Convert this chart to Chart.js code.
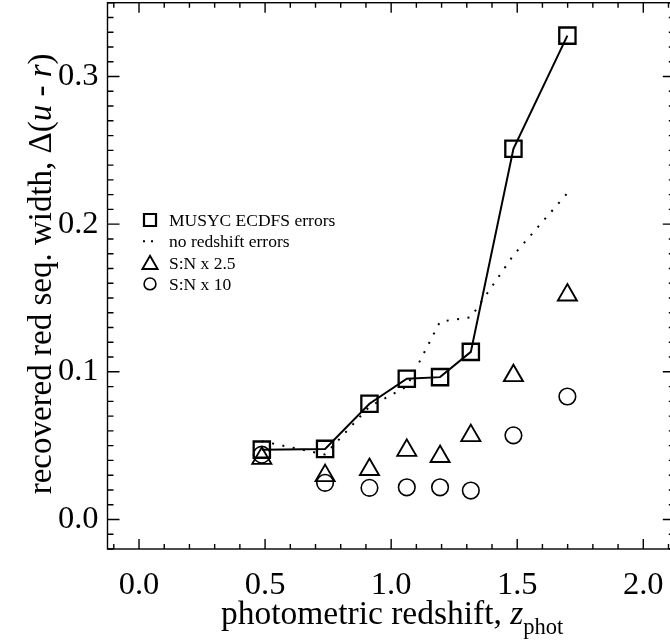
<!DOCTYPE html>
<html>
<head>
<meta charset="UTF-8">
<title>Recovered red sequence width vs photometric redshift</title>
<script src="https://cdn.jsdelivr.net/npm/chart.js"></script>
<style>
  html, body { margin: 0; padding: 0; background: #fff; overflow: hidden; }
  #wrap { width: 676px; height: 644px; }
</style>
</head>
<body>
<div id="wrap"><canvas id="c" width="676" height="644"></canvas></div>
<script>
// redshift bins and recovered red-sequence widths
const zPhot       = [0.487, 0.738, 0.914, 1.062, 1.194, 1.316, 1.485, 1.699];
const widthMusyc  = [0.0473, 0.0478, 0.0784, 0.0953, 0.0964, 0.1135, 0.2511, 0.3277];
const widthNoZErr = [0.053, 0.044, 0.0765, 0.090, 0.134, 0.137, 0.179, 0.221];
const widthSN25   = [0.0414, 0.0297, 0.0338, 0.0468, 0.0426, 0.0568, 0.0974, 0.152];
const widthSN10   = [0.0439, 0.0248, 0.0214, 0.0218, 0.0218, 0.0196, 0.057, 0.0833];

const xTicks = [0.0, 0.5, 1.0, 1.5, 2.0];
const yTicks = [0.0, 0.1, 0.2, 0.3];
const xRange = [-0.125, 2.125];
const yRange = [-0.02, 0.35];

const legendLabels = ['MUSYC ECDFS errors', 'no redshift errors', 'S:N x 2.5', 'S:N x 10'];

const SERIF = '"Liberation Serif", "Times New Roman", serif';
const pts = ys => zPhot.map((x, i) => ({ x, y: ys[i] }));

// box, inward ticks on all four sides, axis titles and the in-plot legend
const framePlugin = {
    id: 'frame',
    afterDraw(chart) {
        const ctx = chart.ctx;
        const a = chart.chartArea;
        const xs = chart.scales.x, ys = chart.scales.y;
        ctx.save();
        ctx.strokeStyle = '#000';
        ctx.lineWidth = 1.4;
        ctx.strokeRect(a.left, a.top, a.right - a.left, a.bottom - a.top);

        ctx.beginPath();
        for (let i = Math.ceil(xRange[0] * 10); i <= Math.floor(xRange[1] * 10); i++) {
            const px = xs.getPixelForValue(i / 10);
            const len = i % 5 === 0 ? 10 : 5;
            ctx.moveTo(px, a.bottom); ctx.lineTo(px, a.bottom - len);
            ctx.moveTo(px, a.top); ctx.lineTo(px, a.top + len);
        }
        for (let i = Math.ceil(yRange[0] * 100); i <= Math.floor(yRange[1] * 100); i++) {
            const py = ys.getPixelForValue(i / 100);
            const len = i % 10 === 0 ? 12 : 6;
            ctx.moveTo(a.left, py); ctx.lineTo(a.left + len, py);
            ctx.moveTo(a.right, py); ctx.lineTo(a.right - len, py);
        }
        ctx.stroke();

        // x title: photometric redshift, z_phot
        ctx.fillStyle = '#000';
        ctx.textBaseline = 'alphabetic';
        const xParts = [
            { t: 'photometric redshift, ', f: '33.5px ' + SERIF, dy: 0 },
            { t: 'z', f: 'italic 33.5px ' + SERIF, dy: 0 },
            { t: 'phot', f: '22.5px ' + SERIF, dy: 10 }
        ];
        drawRun(ctx, xParts, (a.left + a.right) / 2 + 1, a.bottom + 75);

        // y title, rotated
        ctx.save();
        ctx.translate(a.left - 57, (a.top + a.bottom) / 2 - 2);
        ctx.rotate(-Math.PI / 2);
        const yParts = [
            { t: 'recovered red seq. width, \u0394(', f: '33px ' + SERIF, dy: 0 },
            { t: 'u', f: 'italic 33px ' + SERIF, dy: 0 },
            { t: ' - ', f: '33px ' + SERIF, dy: 0 },
            { t: 'r', f: 'italic 33px ' + SERIF, dy: 0 },
            { t: ')', f: '33px ' + SERIF, dy: 0 }
        ];
        drawRun(ctx, yParts, 0, 0);
        ctx.restore();

        // legend
        const lx = a.left + 42.5, tx = a.left + 61.5;
        const rowY = i => a.top + 217.3 + i * 21.3;
        ctx.fillStyle = 'rgba(0,0,0,0)';
        ctx.lineWidth = 2.2;
        Chart.helpers.drawPoint(ctx, { pointStyle: 'rect', radius: 8.5, borderWidth: 2.2 }, lx, rowY(0));
        ctx.beginPath();
        ctx.lineWidth = 2;
        ctx.setLineDash([2, 6]);
        ctx.moveTo(lx - 7, rowY(1)); ctx.lineTo(lx + 3, rowY(1));
        ctx.stroke();
        ctx.setLineDash([]);
        ctx.lineWidth = 1.9;
        Chart.helpers.drawPoint(ctx, { pointStyle: 'triangle', radius: 8.8, borderWidth: 1.9 }, lx, rowY(2) + 2);
        ctx.lineWidth = 1.6;
        Chart.helpers.drawPoint(ctx, { pointStyle: 'circle', radius: 5.9, borderWidth: 1.6 }, lx, rowY(3));
        ctx.fillStyle = '#000';
        ctx.font = '17.5px ' + SERIF;
        ctx.textAlign = 'left';
        legendLabels.forEach((s, i) => ctx.fillText(s, tx, rowY(i) + 6));
        ctx.restore();
    }
};

function drawRun(ctx, parts, cx, baseY) {
    let total = 0;
    parts.forEach(p => { ctx.font = p.f; p.w = ctx.measureText(p.t).width; total += p.w; });
    let x = cx - total / 2;
    ctx.textAlign = 'left';
    parts.forEach(p => { ctx.font = p.f; ctx.fillText(p.t, x, baseY + p.dy); x += p.w; });
}

// drop the label-overhang padding so the plot box sits where the layout says
function noOverhang(s) {
    s.paddingTop = 0; s.paddingBottom = 0; s.paddingLeft = 0; s.paddingRight = 0;
}

new Chart(document.getElementById('c'), {
    type: 'scatter',
    data: {
        datasets: [
            {
                label: legendLabels[1], data: pts(widthNoZErr), showLine: true,
                borderColor: '#000', borderWidth: 2, borderDash: [2, 8.5], pointRadius: 0
            },
            {
                label: legendLabels[0], data: pts(widthMusyc), showLine: true,
                borderColor: '#000', borderWidth: 2, pointStyle: 'rect', pointRadius: 11.5,
                pointBorderWidth: 2.3, pointBorderColor: '#000', pointBackgroundColor: 'rgba(0,0,0,0)'
            },
            {
                label: legendLabels[2], data: pts(widthSN25), showLine: false,
                pointStyle: 'triangle', pointRadius: 11, pointBorderWidth: 1.9,
                pointBorderColor: '#000', pointBackgroundColor: 'rgba(0,0,0,0)'
            },
            {
                label: legendLabels[3], data: pts(widthSN10), showLine: false,
                pointStyle: 'circle', pointRadius: 8.3, pointBorderWidth: 1.6,
                pointBorderColor: '#000', pointBackgroundColor: 'rgba(0,0,0,0)'
            }
        ]
    },
    options: {
        responsive: false,
        animation: false,
        events: [],
        layout: { autoPadding: false, padding: { top: 2.7, right: 1.2, left: 0, bottom: 0 } },
        plugins: { legend: { display: false }, tooltip: { enabled: false } },
        scales: {
            x: {
                type: 'linear', min: xRange[0], max: xRange[1],
                grid: { display: false, drawTicks: false }, border: { display: false },
                afterBuildTicks: s => { s.ticks = xTicks.map(v => ({ value: v })); },
                afterFit: s => { s.height = 95; noOverhang(s); },
                ticks: {
                    color: '#000', padding: 17,
                    font: { family: SERIF, size: 32.5 },
                    callback: v => v.toFixed(1)
                }
            },
            y: {
                type: 'linear', min: yRange[0], max: yRange[1],
                grid: { display: false, drawTicks: false }, border: { display: false },
                afterBuildTicks: s => { s.ticks = yTicks.map(v => ({ value: v })); },
                afterFit: s => { s.width = 107.5; noOverhang(s); },
                ticks: {
                    color: '#000', padding: 9,
                    font: { family: SERIF, size: 32.5 },
                    callback: v => v.toFixed(1)
                }
            }
        }
    },
    plugins: [framePlugin]
});
</script>
</body>
</html>
